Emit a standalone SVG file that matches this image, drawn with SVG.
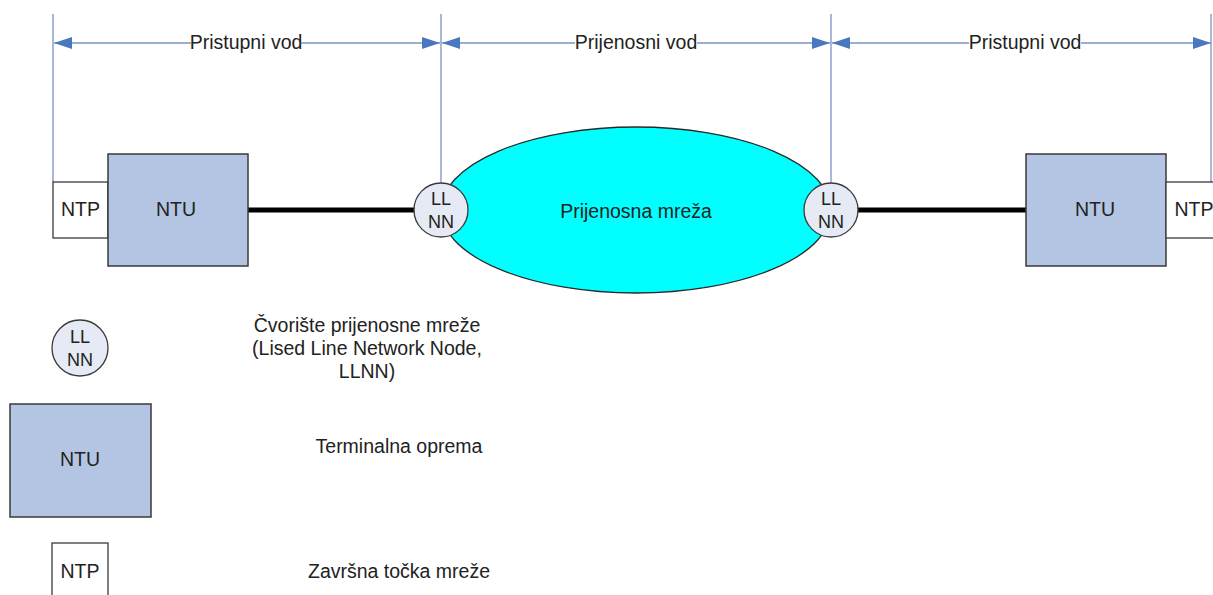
<svg xmlns="http://www.w3.org/2000/svg" width="1213" height="595" viewBox="0 0 1213 595">
<defs>
<marker id="ah" viewBox="0 0 18 12" refX="18" refY="6" markerWidth="18" markerHeight="12" markerUnits="userSpaceOnUse" orient="auto-start-reverse">
<path d="M0,0 L18,6 L0,12 Z" fill="#4a78c0"/>
</marker>
</defs>
<style>
text{font-family:"Liberation Sans",Arial,sans-serif;font-size:19.5px;fill:#222;text-anchor:middle}
.c{font-size:18px}
.dim{stroke:#7b93c4;stroke-width:1.3;fill:none}
.ntu{fill:#b3c5e2;stroke:#3a3a3a;stroke-width:1.5}
.ntp{fill:#ffffff;stroke:#3a3a3a;stroke-width:1.3}
.ll{fill:#e6eaf4;stroke:#3a3a3a;stroke-width:1.3}
.thick{stroke:#000;stroke-width:5;stroke-linecap:round}
.lbl{fill:#fff}
</style>
<rect width="1213" height="595" fill="#fff"/>
<g id="dimensions">
<line class="dim" x1="53" y1="14" x2="53" y2="182"/>
<line class="dim" x1="441" y1="14" x2="441" y2="183"/>
<line class="dim" x1="831" y1="14" x2="831" y2="183"/>
<line class="dim" x1="1211" y1="14" x2="1211" y2="182"/>
<line class="dim" x1="54" y1="43" x2="440" y2="43" marker-start="url(#ah)" marker-end="url(#ah)"/>
<line class="dim" x1="442" y1="43" x2="830" y2="43" marker-start="url(#ah)" marker-end="url(#ah)"/>
<line class="dim" x1="832" y1="43" x2="1211" y2="43" marker-start="url(#ah)" marker-end="url(#ah)"/>
<rect class="lbl" x="191" y="33" width="110" height="20"/>
<text x="246" y="49">Pristupni vod</text>
<rect class="lbl" x="575" y="33" width="122" height="20"/>
<text x="636" y="49">Prijenosni vod</text>
<rect class="lbl" x="969" y="33" width="112" height="20"/>
<text x="1025" y="49">Pristupni vod</text>
</g>
<g id="network">
<ellipse cx="636" cy="210" rx="195" ry="83" fill="#00ffff" stroke="#2a2a2a" stroke-width="1.3"/>
<text x="636" y="218">Prijenosna mreža</text>
</g>
<g id="connectors">
<line class="thick" x1="248" y1="210" x2="414" y2="210"/>
<line class="thick" x1="858" y1="210" x2="1026" y2="210"/>
</g>
<g id="ntp-left">
<rect class="ntp" x="53" y="182" width="55" height="56"/>
<text x="80.5" y="216">NTP</text>
</g>
<g id="ntu-left">
<rect class="ntu" x="108" y="154" width="140" height="112"/>
<text x="176" y="216">NTU</text>
</g>
<g id="llnn-left">
<circle class="ll" cx="441" cy="210" r="27"/>
<text class="c" x="441" y="205">LL</text>
<text class="c" x="441" y="228">NN</text>
</g>
<g id="llnn-right">
<circle class="ll" cx="831" cy="210" r="27"/>
<text class="c" x="831" y="205">LL</text>
<text class="c" x="831" y="228">NN</text>
</g>
<g id="ntu-right">
<rect class="ntu" x="1026" y="154" width="140" height="112"/>
<text x="1095" y="216">NTU</text>
</g>
<g id="ntp-right">
<rect class="ntp" x="1166" y="182" width="56" height="56"/>
<text x="1194" y="216">NTP</text>
</g>
<g id="legend-llnn">
<circle class="ll" cx="80" cy="348" r="28"/>
<text class="c" x="80" y="343">LL</text>
<text class="c" x="80" y="366">NN</text>
<text x="367" y="332">Čvorište prijenosne mreže</text>
<text x="367" y="355">(Lised Line Network Node,</text>
<text x="367" y="378">LLNN)</text>
</g>
<g id="legend-ntu">
<rect class="ntu" x="10" y="404" width="141" height="113"/>
<text x="80" y="466">NTU</text>
<text x="399" y="453">Terminalna oprema</text>
</g>
<g id="legend-ntp">
<rect class="ntp" x="52" y="543" width="56" height="60"/>
<text x="80" y="578">NTP</text>
<text x="399" y="578">Završna točka mreže</text>
</g>
</svg>
